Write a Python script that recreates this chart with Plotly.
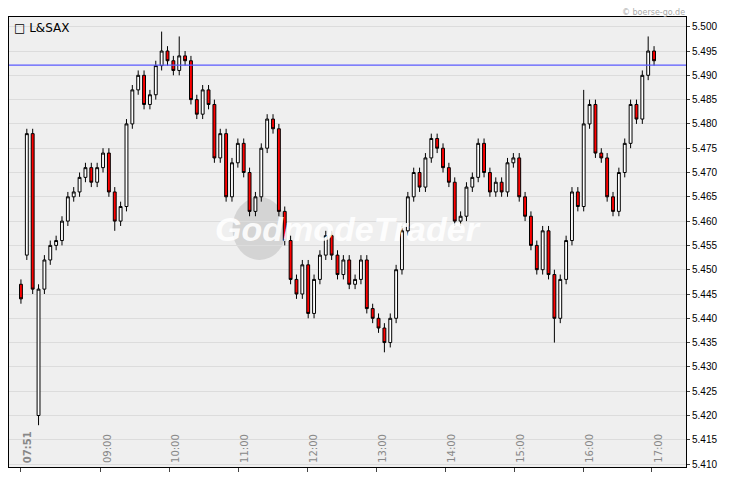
import plotly.graph_objects as go

# 5-minute candles from 07:51
START_MIN = 7 * 60 + 51
STEP = 5.1

closes = [
    5.444, 5.478, 5.446, 5.446, 5.452, 5.455, 5.456, 5.460, 5.465, 5.466,
    5.469, 5.471, 5.468, 5.471, 5.474, 5.466, 5.460, 5.463, 5.480, 5.487,
    5.490, 5.484, 5.486, 5.492, 5.495, 5.493, 5.491, 5.494, 5.493, 5.485,
    5.482, 5.487, 5.484, 5.473, 5.478, 5.465, 5.472, 5.476, 5.470, 5.462,
    5.465, 5.475, 5.481, 5.479, 5.462, 5.456, 5.448, 5.445, 5.451, 5.441,
    5.448, 5.453, 5.457, 5.453, 5.449, 5.452, 5.447, 5.448, 5.452, 5.442,
    5.440, 5.438, 5.435, 5.440, 5.450, 5.458, 5.465, 5.470, 5.467, 5.473,
    5.477, 5.475, 5.471, 5.468, 5.460, 5.461, 5.467, 5.469, 5.476, 5.470,
    5.466, 5.468, 5.466, 5.472, 5.473, 5.465, 5.461, 5.455, 5.450, 5.458,
    5.449, 5.440, 5.448, 5.456, 5.466, 5.463, 5.480, 5.484, 5.474, 5.473,
    5.465, 5.462, 5.470, 5.476, 5.484, 5.481, 5.490, 5.495, 5.493,
]
first_opens = [5.447, 5.453, 5.478, 5.420]
high_override = {24: 5.499, 27: 5.498, 107: 5.498, 96: 5.487}
low_override = {3: 5.418, 62: 5.433, 91: 5.435, 16: 5.458}
ref_level = 5.4921
price_ticks = [5.410, 5.415, 5.420, 5.425, 5.430, 5.435, 5.440, 5.445, 5.450, 5.455,
               5.460, 5.465, 5.470, 5.475, 5.480, 5.485, 5.490, 5.495, 5.500]
tick_vals = [471, 540, 600, 660, 720, 780, 840, 900, 960, 1020]
tick_text = ["<b>07:51</b>", "09:00", "10:00", "11:00", "12:00", "13:00",
             "14:00", "15:00", "16:00", "17:00"]

opens = first_opens + closes[len(first_opens) - 1:-1]
highs, lows = [], []
for i, (o, c) in enumerate(zip(opens, closes)):
    highs.append(high_override.get(i, max(o, c) + 0.001))
    lows.append(low_override.get(i, min(o, c) - 0.001))
times = [START_MIN + STEP * i for i in range(len(closes))]

fig = go.Figure(go.Candlestick(
    x=times, open=opens, high=highs, low=lows, close=closes,
    increasing=dict(fillcolor="white", line=dict(color="black", width=1)),
    decreasing=dict(fillcolor="#ff0000", line=dict(color="black", width=1)),
    whiskerwidth=0, showlegend=False,
))

fig.add_hline(y=ref_level, line=dict(color="#5a5aff", width=1.2))

# time labels drawn inside the plot, rotated
for tv, tt in zip(tick_vals, tick_text):
    fig.add_annotation(x=tv, y=0.005, xref="x", yref="paper", text=tt, textangle=-90,
                       showarrow=False, xanchor="left", yanchor="bottom", xshift=-1,
                       font=dict(family="DejaVu Sans", size=10, color="#888888"))

fig.add_shape(type="circle", xref="paper", yref="paper", x0=0.33, x1=0.41, y0=0.46, y1=0.6,
              fillcolor="rgba(180,180,180,0.45)", line=dict(width=0), layer="below")
fig.add_annotation(x=0.5, y=0.53, xref="paper", yref="paper", showarrow=False,
                   text="<b><i>GodmodeTrader</i></b>",
                   font=dict(family="Liberation Sans", size=34, color="rgba(255,255,255,0.9)"))
fig.add_annotation(x=0.005, y=0.995, xref="paper", yref="paper", showarrow=False,
                   xanchor="left", yanchor="top", text="\u25a1 L&SAX",
                   font=dict(family="DejaVu Sans", size=12, color="black"))
fig.add_annotation(x=1.0, y=1, xref="paper", yref="paper", showarrow=False,
                   xanchor="right", yanchor="bottom", yshift=-1, borderpad=0,
                   text="\u00a9 boerse-go.de",
                   font=dict(family="DejaVu Sans", size=8, color="#aaaaaa"))

fig.update_layout(
    width=722, height=473,
    margin=dict(l=1, r=44, t=9, b=14),
    paper_bgcolor="white", plot_bgcolor="#efefef",
    font=dict(family="DejaVu Sans", size=11, color="black"),
    xaxis=dict(range=[460.6, 1049.6], tickvals=tick_vals, showticklabels=False,
               ticks="outside", ticklen=4, showgrid=False, zeroline=False,
               showline=True, linecolor="black", mirror=True, rangeslider=dict(visible=False)),
    yaxis=dict(range=[5.4094, 5.502], side="right", tickvals=price_ticks,
               ticktext=[f"{v:.3f}" for v in price_ticks], ticks="outside", ticklen=3,
               tickfont=dict(family="Liberation Sans", size=10),
               gridcolor="#dcdcdc", zeroline=False, showline=True, linecolor="black",
               mirror=True),
)

fig.write_html("out.html")
